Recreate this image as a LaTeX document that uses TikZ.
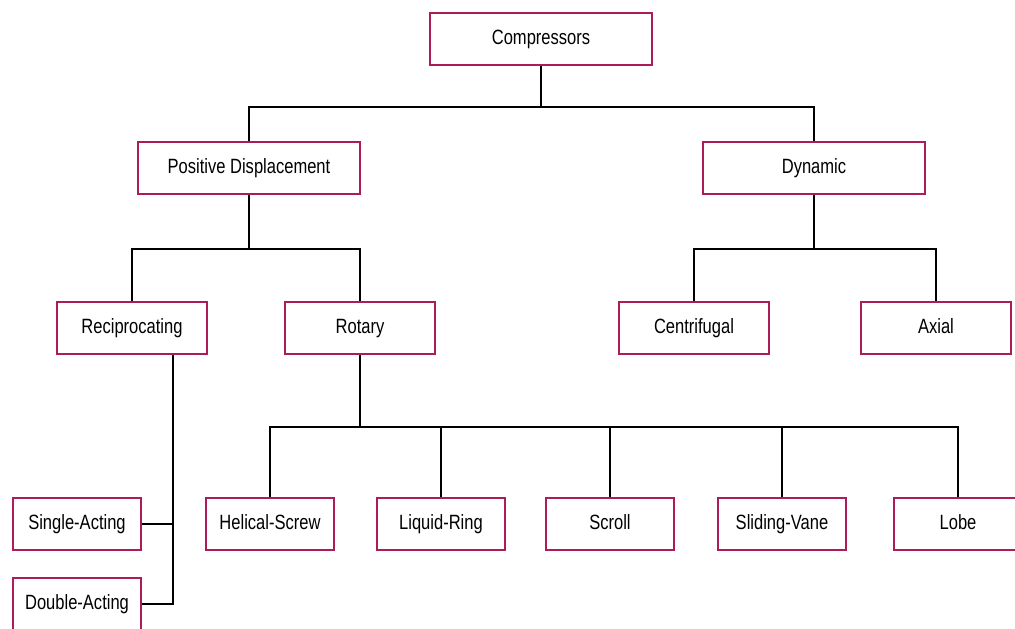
\documentclass[tikz,border=0pt]{standalone}
\usepackage{fontspec}
\setmainfont{Liberation Sans}[FakeStretch=0.8]
\definecolor{boxred}{RGB}{172,28,88}

\begin{document}
\begin{tikzpicture}[x=0.75pt,y=-0.75pt,
  box/.style={draw=boxred,line width=1.5pt,minimum height=38.5pt,inner sep=0pt,
    text height=11pt,text depth=3pt,font=\fontsize{15.5}{18}\selectfont},
  widebox/.style={box,minimum width=166pt},
  midbox/.style={box,minimum width=113pt},
  smallbox/.style={box,minimum width=96pt},
  link/.style={line width=1.2pt}]
\useasboundingbox (0,0) rectangle (1015,629);
% boxes
\node[widebox] (comp) at (541,39) {Compressors};
\node[widebox] (pd) at (249,168) {Positive Displacement};
\node[widebox] (dyn) at (814,168) {Dynamic};
\node[midbox] (recip) at (132,328) {Reciprocating};
\node[midbox] (rot) at (360,328) {Rotary};
\node[midbox] (cent) at (694,328) {Centrifugal};
\node[midbox] (axial) at (936,328) {Axial};
\node[smallbox] (helical) at (270,524) {Helical-Screw};
\node[smallbox] (liquid) at (441,524) {Liquid-Ring};
\node[smallbox] (scroll) at (610,524) {Scroll};
\node[smallbox] (sliding) at (782,524) {Sliding-Vane};
\node[smallbox] (lobe) at (958,524) {Lobe};
\node[smallbox] (single) at (77,524) {Single-Acting};
\node[smallbox] (double) at (77,604) {Double-Acting};
% connectors
\coordinate (cj) at (541,107);
\draw[link] (comp.south) -- (cj);
\draw[link] (pd.north) |- (cj) -| (dyn.north);
\coordinate (pj) at (249,249);
\draw[link] (pd.south) -- (pj);
\draw[link] (recip.north) |- (pj) -| (rot.north);
\coordinate (dj) at (814,249);
\draw[link] (dyn.south) -- (dj);
\draw[link] (cent.north) |- (dj) -| (axial.north);
\coordinate (rj) at (360,427);
\draw[link] (rot.south) -- (rj);
\draw[link] (helical.north) |- (rj) -| (lobe.north);
\foreach \n in {liquid,scroll,sliding}
  \draw[link] (\n.north) -- (\n.north |- rj);
\coordinate (aj) at (173,604);
\draw[link] (recip.south -| aj) -- (aj) -- (double.east);
\draw[link] (single.east) -- (single.east -| aj);
\end{tikzpicture}
\end{document}
